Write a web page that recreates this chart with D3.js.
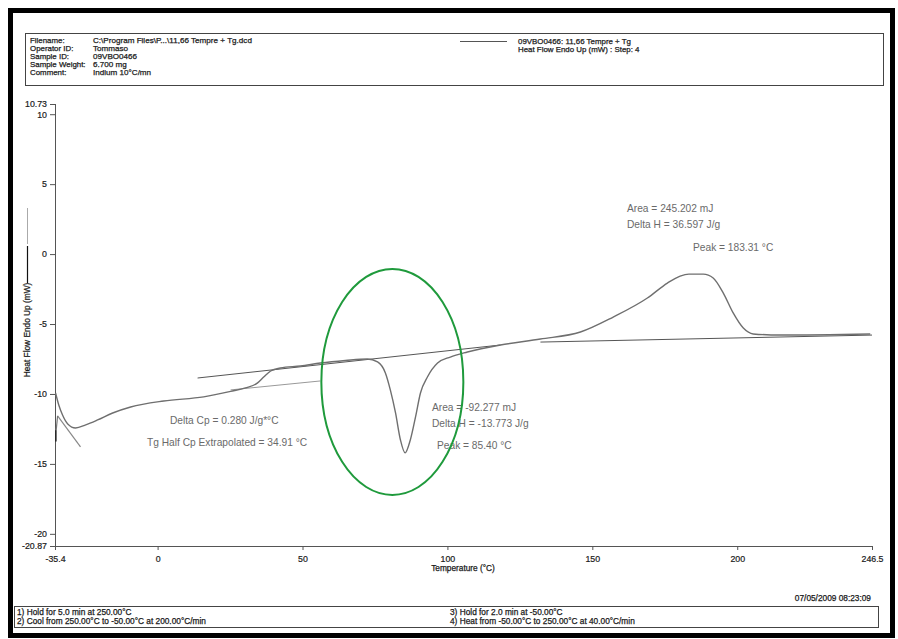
<!DOCTYPE html>
<html>
<head>
<meta charset="utf-8">
<script src="https://cdn.jsdelivr.net/npm/d3@7/dist/d3.min.js"></script>
<style>
html,body{margin:0;padding:0;background:#fff;}
svg{display:block;font-family:"Liberation Sans",Arial,sans-serif;}
</style>
</head>
<body>
<svg id="chart" width="898" height="639"></svg>
<script>
// ---- data ----
const curveTemp = [-35.2,-34.1,-32.8,-31.0,-28.3,-24.8,-20.7,-15.5,-9.3,2.1,15.9,25.2,30.3,34.5,36.6,39.0,42.4,49.3,56.2,64.8,72.4,75.9,78.6,80.3,82.1,83.8,85.4,87.2,89.0,90.7,93.1,96.6,101.0,106.9,118.3,132.1,145.9,157.2,169.0,175.9,180.3,183.3,188.3,191.7,195.2,198.6,202.1,205.5,214.8,245.9];
const curveHeat = [-9.93,-10.79,-11.5,-12.14,-12.43,-12.21,-11.86,-11.36,-10.93,-10.5,-10.21,-9.82,-9.57,-9.21,-8.79,-8.36,-8.14,-8.0,-7.79,-7.61,-7.5,-7.71,-8.5,-9.71,-11.36,-13.29,-14.21,-13.29,-11.64,-9.93,-8.79,-7.79,-7.36,-7.0,-6.5,-6.07,-5.57,-4.5,-3.14,-2.07,-1.57,-1.43,-1.43,-1.71,-2.79,-4.21,-5.29,-5.71,-5.79,-5.71];
const baseUpperTemp = [13.8,118.3];
const baseUpperHeat = [-8.86,-6.5];
const baseLowerTemp = [25.2,56.2];
const baseLowerHeat = [-9.71,-9.07];
const baseBigTemp = [132.1,246.5];
const baseBigHeat = [-6.29,-5.79];
const startTanTemp = [-34.5,-26.6];
const startTanHeat = [-11.57,-13.79];
const xTicks = [-35.4,0,50,100,150,200,246.5];
const xTickLabels = ["-35.4","0","50","100","150","200","246.5"];
const yTicks = [10.73,10,5,0,-5,-10,-15,-20,-20.87];
const yTickLabels = ["10.73","10","5","0","-5","-10","-15","-20","-20.87"];
const headerLabels = ["Filename:","Operator ID:","Sample ID:","Sample Weight:","Comment:"];
const headerValues = ["C:\\Program Files\\P...\\11,66 Tempre + Tg.dcd","Tommaso","09VBO0466","6.700 mg","Indium 10°C/mn"];
const legendLines = ["09VBO0466: 11,66 Tempre + Tg","Heat Flow Endo Up (mW) : Step: 4"];
const footerLeft = ["1)  Hold for 5.0 min at 250.00°C","2)  Cool from 250.00°C to -50.00°C at 200.00°C/min"];
const footerRight = ["3)    Hold for 2.0 min at -50.00°C","4)    Heat from -50.00°C to 250.00°C at 40.00°C/min"];

// ---- drawing ----
const svg = d3.select("#chart");
const x = d3.scaleLinear().domain([-35.4,246.5]).range([55,872]);
const y = d3.scaleLinear().domain([-20.87,10.73]).range([546,104]);

function txt(s,px,py,size,col,anchor){
  return svg.append("text").attr("x",px).attr("y",py).attr("font-size",size)
    .attr("fill",col).attr("text-anchor",anchor||"start").text(s);
}
function bold(t){ return t.attr("stroke",t.attr("fill")).attr("stroke-width",0.25); }

// outer frame
svg.append("rect").attr("x",10.5).attr("y",10.5).attr("width",882).attr("height",625)
  .attr("fill","none").attr("stroke","#000").attr("stroke-width",5);

// header box
svg.append("rect").attr("x",25.5).attr("y",33.5).attr("width",858).attr("height",52)
  .attr("fill","none").attr("stroke","#444").attr("stroke-width",1);
headerLabels.forEach((t,i)=>{
  bold(txt(t,30,42.5+i*8.2,7.9,"#1a1a1a"));
  bold(txt(headerValues[i],93,42.5+i*8.2,8.1,"#1a1a1a"));
});
svg.append("line").attr("x1",460).attr("x2",507).attr("y1",41.5).attr("y2",41.5).attr("stroke","#555").attr("stroke-width",1);
legendLines.forEach((t,i)=>{
  bold(txt(t,518,44+i*8.2,7.9,"#1a1a1a"));
});

// axes
const xAxis = d3.axisBottom(x).tickValues(xTicks).tickFormat((d,i)=>xTickLabels[i]).tickSize(4).tickPadding(6);
const gx = svg.append("g").attr("transform","translate(0,546)").call(xAxis);
const yAxis = d3.axisLeft(y).tickValues(yTicks).tickFormat((d,i)=>yTickLabels[i]).tickSize(5).tickPadding(3);
const gy = svg.append("g").attr("transform","translate(55,0)").call(yAxis);
[gx,gy].forEach(g=>{
  g.select(".domain").attr("stroke","#555");
  g.selectAll(".tick line").attr("stroke","#555");
  g.selectAll("text").attr("font-size",8.8).attr("fill","#1a1a1a").attr("stroke","#1a1a1a").attr("stroke-width",0.2)
    .attr("font-family","Liberation Sans, Arial, sans-serif");
});
gy.select(".domain").attr("d","M0.5,104V546");
gx.select(".domain").attr("d","M55,0.5H872");

// axis titles
bold(txt("Temperature (°C)",463,571,8.3,"#1a1a1a","middle"));
bold(svg.append("text").attr("transform","translate(30,330) rotate(-90)").attr("text-anchor","middle")
  .attr("font-size",8.3).attr("fill","#1a1a1a").text("Heat Flow Endo Up (mW)"));
svg.append("line").attr("x1",27.5).attr("x2",27.5).attr("y1",246).attr("y2",283).attr("stroke","#111").attr("stroke-width",1.2);
svg.append("line").attr("x1",27.5).attr("x2",27.5).attr("y1",208).attr("y2",244).attr("stroke","#aaa").attr("stroke-width",1);

// baselines / tangents
const ln = d3.line().x(d=>x(d[0])).y(d=>y(d[1]));
function seg(ts,hs,col,w){
  svg.append("path").attr("d",ln(ts.map((t,i)=>[t,hs[i]]))).attr("fill","none").attr("stroke",col).attr("stroke-width",w);
}
seg(baseUpperTemp,baseUpperHeat,"#555",1);
seg(baseLowerTemp,baseLowerHeat,"#999",1);
seg(baseBigTemp,baseBigHeat,"#555",1);
seg(startTanTemp,startTanHeat,"#888",1.2);

// main curve
const curve = d3.line().x(d=>x(d[0])).y(d=>y(d[1])).curve(d3.curveMonotoneX);
svg.append("path").attr("d",curve(curveTemp.map((t,i)=>[t,curveHeat[i]])))
  .attr("fill","none").attr("stroke","#6f6f6f").attr("stroke-width",1.4);
// small start hook
seg([-35.0,-34.5],[-12.6,-11.57],"#777",1.2);
seg([-35.1,-35.1],[-12.6,-13.4],"#222",1.5);

// annotations
const ann = [
  ["Area = 245.202 mJ",627,212],
  ["Delta H = 36.597 J/g",627,228],
  ["Peak = 183.31 °C",693,251],
  ["Delta Cp = 0.280 J/g*°C",170,424],
  ["Tg  Half Cp Extrapolated = 34.91 °C",147,446],
  ["Area = -92.277 mJ",432,411],
  ["Delta H = -13.773 J/g",432,427],
  ["Peak = 85.40 °C",437,449]
];
ann.forEach(a=>{ txt(a[0],a[1],a[2],10.2,"#6a6a6a"); });

// green highlight ellipse
svg.append("ellipse").attr("cx",x(81.0)).attr("cy",y(-9.14)).attr("rx",71).attr("ry",113)
  .attr("fill","none").attr("stroke","#1f9a3c").attr("stroke-width",2);

// timestamp
bold(txt("07/05/2009 08:23:09",871,601,8.3,"#1a1a1a","end"));

// footer box
svg.append("rect").attr("x",14.5).attr("y",606.5).attr("width",864).attr("height",21)
  .attr("fill","none").attr("stroke","#444").attr("stroke-width",1);
footerLeft.forEach((t,i)=>{ bold(txt(t,17,615+i*8.5,8.3,"#1a1a1a")); });
footerRight.forEach((t,i)=>{ bold(txt(t,450,615+i*8.5,8.3,"#1a1a1a")); });
</script>
</body>
</html>
